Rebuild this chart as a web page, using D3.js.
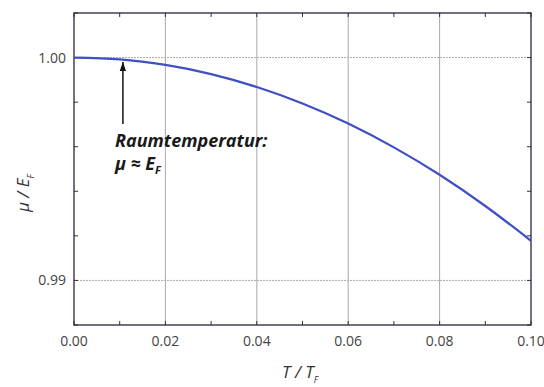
<!DOCTYPE html>
<html>
<head>
<meta charset="utf-8">
<script src="https://cdn.jsdelivr.net/npm/d3@7"></script>
<style>
  body { margin: 0; background: #fff; }
  text { font-family: "Open Sans", "Liberation Sans", sans-serif; }
</style>
</head>
<body>
<script>
// values
var tVals  = [0.00, 0.01, 0.02, 0.03, 0.04, 0.05, 0.06, 0.07, 0.08, 0.09, 0.10];
var muVals = [1.0000, 0.99992, 0.99967, 0.99926, 0.99868, 0.99794, 0.99704, 0.99597, 0.99474, 0.99334, 0.99178];
var xTicks = [0.00, 0.02, 0.04, 0.06, 0.08, 0.10];
var yTicks = [0.99, 1.00];
var arrowAt = 0.0107;

var width = 544, height = 387;
var margin = {top: 13, right: 13, bottom: 62, left: 74};

var svg = d3.select("body").append("svg")
    .attr("width", width).attr("height", height);

var x = d3.scaleLinear().domain([0, 0.10]).range([margin.left, width - margin.right]);
var y = d3.scaleLinear().domain([0.988, 1.002]).range([height - margin.bottom, margin.top]);

var g = svg.append("g");

// vertical grid
g.selectAll(".vgrid").data([0.02, 0.04, 0.06, 0.08]).enter().append("line")
  .attr("x1", function(d){ return x(d); }).attr("x2", function(d){ return x(d); })
  .attr("y1", y.range()[1]).attr("y2", y.range()[0])
  .attr("stroke", "#a89aa0").attr("stroke-width", 0.9);

// horizontal grid (dotted)
g.selectAll(".hgrid").data(yTicks).enter().append("line")
  .attr("x1", x.range()[0]).attr("x2", x.range()[1])
  .attr("y1", function(d){ return y(d); }).attr("y2", function(d){ return y(d); })
  .attr("stroke", "#b0a8b0").attr("stroke-width", 1).attr("stroke-dasharray", "2,1");

// minor ticks all round
var xMinor = d3.range(0, 0.1001, 0.01);
var yMinor = d3.range(0.988, 1.0021, 0.002);
g.selectAll(".xtb").data(xMinor).enter().append("line")
  .attr("x1", function(d){ return x(d); }).attr("x2", function(d){ return x(d); })
  .attr("y1", y.range()[0]).attr("y2", y.range()[0] - 4)
  .attr("stroke", "#333");
g.selectAll(".xtt").data(xMinor).enter().append("line")
  .attr("x1", function(d){ return x(d); }).attr("x2", function(d){ return x(d); })
  .attr("y1", y.range()[1]).attr("y2", y.range()[1] + 4)
  .attr("stroke", "#333");
g.selectAll(".ytl").data(yMinor).enter().append("line")
  .attr("x1", x.range()[0]).attr("x2", x.range()[0] + 4)
  .attr("y1", function(d){ return y(d); }).attr("y2", function(d){ return y(d); })
  .attr("stroke", "#333");
g.selectAll(".ytr").data(yMinor).enter().append("line")
  .attr("x1", x.range()[1]).attr("x2", x.range()[1] - 4)
  .attr("y1", function(d){ return y(d); }).attr("y2", function(d){ return y(d); })
  .attr("stroke", "#333");

// frame
g.append("rect")
  .attr("x", x.range()[0]).attr("y", y.range()[1])
  .attr("width", x.range()[1] - x.range()[0])
  .attr("height", y.range()[0] - y.range()[1])
  .attr("fill", "none").attr("stroke", "#2a2440").attr("stroke-width", 1.3);

// tick labels
g.selectAll(".xl").data(xTicks).enter().append("text")
  .attr("x", function(d){ return x(d); }).attr("y", y.range()[0] + 21)
  .attr("text-anchor", "middle").attr("font-size", 14).attr("fill", "#444")
  .text(function(d){ return d3.format(".2f")(d); });
g.selectAll(".yl").data(yTicks).enter().append("text")
  .attr("x", x.range()[0] - 8).attr("y", function(d){ return y(d) + 5; })
  .attr("text-anchor", "end").attr("font-size", 14).attr("fill", "#444")
  .text(function(d){ return d3.format(".2f")(d); });

// curve
var line = d3.line().curve(d3.curveMonotoneX)
  .x(function(d, i){ return x(tVals[i]); })
  .y(function(d){ return y(d); });
g.append("path").datum(muVals).attr("d", line)
  .attr("fill", "none").attr("stroke", "#3f4fc4").attr("stroke-width", 2.2);

// arrow
svg.append("defs").append("marker").attr("id", "ah")
  .attr("viewBox", "0 0 10 10").attr("refX", 10).attr("refY", 5)
  .attr("markerWidth", 6).attr("markerHeight", 6).attr("orient", "auto")
  .append("path").attr("d", "M0,1.5 L10,5 L0,8.5 z").attr("fill", "#111");
g.append("line")
  .attr("x1", x(arrowAt)).attr("x2", x(arrowAt))
  .attr("y1", 124).attr("y2", 62)
  .attr("stroke", "#111").attr("stroke-width", 1.5)
  .attr("marker-end", "url(#ah)");

// annotation
var ann = g.append("text").attr("font-size", 18).attr("font-weight", "bold")
  .attr("font-style", "italic").attr("fill", "#1a1a1a");
ann.append("tspan").attr("x", 115).attr("y", 147).text("Raumtemperatur:");
ann.append("tspan").attr("x", 115).attr("y", 170).text("μ ≈ E");
ann.append("tspan").attr("dy", 4).attr("font-size", 11).text("F");

// axis titles
var xt = svg.append("text").attr("x", 282).attr("y", 378)
  .attr("font-size", 17).attr("font-style", "italic").attr("fill", "#333");
xt.append("tspan").text("T / T");
xt.append("tspan").attr("dy", 5).attr("font-size", 9).text("F");

var yt = svg.append("text")
  .attr("transform", "translate(29,212) rotate(-90)")
  .attr("font-size", 17).attr("font-style", "italic").attr("fill", "#333");
yt.append("tspan").text("μ / E");
yt.append("tspan").attr("dy", 5).attr("font-size", 9).text("F");
</script>
</body>
</html>
